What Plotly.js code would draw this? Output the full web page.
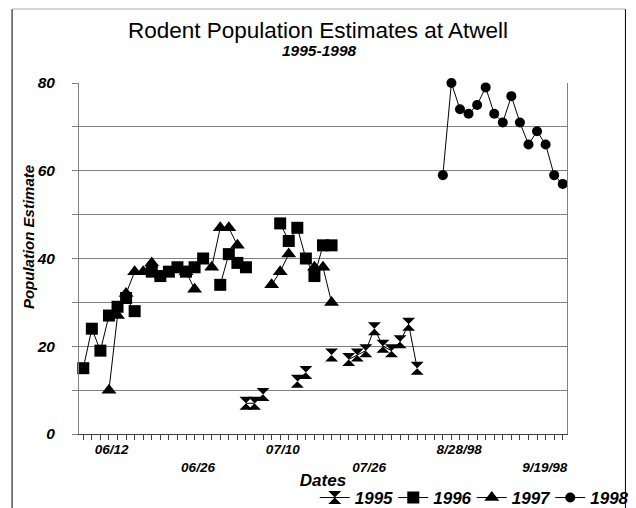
<!DOCTYPE html>
<html><head><meta charset="utf-8">
<script src="https://cdn.plot.ly/plotly-3.0.1.min.js"></script>
<style>html,body{margin:0;padding:0;background:#fff}#chart{width:636px;height:508px}</style>
</head><body><div id="chart"></div>
<script>
const N = null;
// 57 sampling occasions (category slots) along the x axis
const pop1995 = [
  N,N,N,N,N,N,N,N,N,N,
  N,N,N,N,N,N,N,N,N,7,
  7,9,N,N,N,12,14,N,N,18,
  N,17,18,19,24,20,19,21,25,15,
  N,N,N,N,N,N,N,N,N,N,
  N,N,N,N,N,N,N];
const pop1996 = [
  15,24,19,27,29,31,28,N,37,36,
  37,38,37,38,40,N,34,41,39,38,
  N,N,N,48,44,47,40,36,43,43,
  N,N,N,N,N,N,N,N,N,N,
  N,N,N,N,N,N,N,N,N,N,
  N,N,N,N,N,N,N];
const pop1997 = [
  N,N,N,10,27,32,37,37,39,N,
  N,N,37,33,N,38,47,47,43,N,
  N,N,34,37,41,N,N,38,38,30,
  N,N,N,N,N,N,N,N,N,N,
  N,N,N,N,N,N,N,N,N,N,
  N,N,N,N,N,N,N];
const pop1998 = [
  N,N,N,N,N,N,N,N,N,N,
  N,N,N,N,N,N,N,N,N,N,
  N,N,N,N,N,N,N,N,N,N,
  N,N,N,N,N,N,N,N,N,N,
  N,N,59,80,74,73,75,79,73,71,
  77,71,66,69,66,59,57];
const seriesNames = ['1995','1996','1997','1998'];
const dateLabels = ['06/12','06/26','07/10','07/26','8/28/98','9/19/98'];
const dateLabelSlots = [3.3, 13.4, 23.3, 33.4, 43.9, 53.9];
const yTickValues = [0,10,20,30,40,50,60,70,80];

const slots = pop1995.map((_, i) => i);
const symbols = ['hourglass','square','triangle-up','circle'];
const sizes = [13,12,13,10];
const allSeries = [pop1995, pop1996, pop1997, pop1998];

const traces = allSeries.map((ys, k) => ({
  type:'scatter', mode:'lines+markers', name: seriesNames[k],
  x: slots, y: ys,
  line:{color:'#000', width:1},
  marker:{symbol: symbols[k], size: sizes[k], color:'#000', line:{width:0}},
  cliponaxis:false, connectgaps:false
}));

const bi = {weight:'bold', style:'italic'};
const layout = {
  width:636, height:508,
  margin:{l:79, r:68.5, t:83, b:74, pad:0, autoexpand:false},
  paper_bgcolor:'#fff', plot_bgcolor:'#fff',
  font:{family:'Arial, "Liberation Sans", sans-serif', color:'#000'},
  title:{text:'Rodent Population Estimates at Atwell', font:{size:22.5, color:'#000'},
         x:0.5, xref:'container', xanchor:'center', y:1-30/508, yref:'container', yanchor:'middle'},
  showlegend:true,
  xaxis:{
    range:[-0.5,56.5], tickmode:'array', tickvals: dateLabelSlots,
    ticktext: dateLabels.map((t,i)=> i%2 ? '<br>'+t : t),
    ticks:'', showgrid:false, zeroline:false,
    showline:true, linecolor:'#404040', linewidth:1,
    tickfont:Object.assign({size:13.5, color:'#000'}, bi),
    ticklabelstandoff:3,
    minor:{tickmode:'linear', tick0:0, dtick:1, ticks:'outside', ticklen:5, tickcolor:'#404040', tickwidth:1, showgrid:false},
    title:{text:'Dates', font:Object.assign({size:17, color:'#000'}, bi), standoff:0},
    fixedrange:true
  },
  yaxis:{
    range:[0,80], tickmode:'array', tickvals: yTickValues,
    ticktext: yTickValues.map(v => v%20===0 ? String(v) : ''),
    ticks:'outside', ticklen:6, tickcolor:'#808080', tickwidth:1,
    showgrid:true, gridcolor:'#808080', gridwidth:1, zeroline:false,
    showline:true, linecolor:'#808080', linewidth:1, mirror:true,
    tickfont:Object.assign({size:15.5, color:'#000'}, bi),
    ticklabelstandoff:14, fixedrange:true
  },
  legend:{orientation:'h', x:(315-79)/488.5, xanchor:'left', y:(434-498)/351, yanchor:'middle',
          font:Object.assign({size:17, color:'#000'}, bi), bgcolor:'rgba(0,0,0,0)',
          itemwidth:30, tracegroupgap:0, entrywidth:33.5, entrywidthmode:'pixels'},
  annotations:[
    {text:'1995-1998', xref:'paper', yref:'paper', x:(320-79)/488.5, y:(434-51)/351, xanchor:'center', yanchor:'middle',
     showarrow:false, font:Object.assign({size:15.5, color:'#000'}, bi)},
    {text:'Population Estimate', xref:'paper', yref:'paper', x:(29-79)/488.5, y:(434-237)/351, textangle:-90,
     xanchor:'center', yanchor:'middle', showarrow:false, font:Object.assign({size:15, color:'#000'}, bi)}
  ],
  shapes:[
    {type:'line', xref:'paper', yref:'paper', x0:(12-79)/488.5, x1:(12-79)/488.5, y0:(434-510)/351, y1:(434-9)/351, line:{color:'#000', width:1}},
    {type:'line', xref:'paper', yref:'paper', x0:(626-79)/488.5, x1:(626-79)/488.5, y0:(434-510)/351, y1:(434-9)/351, line:{color:'#000', width:1}},
    {type:'line', xref:'paper', yref:'paper', x0:(12-79)/488.5, x1:(626-79)/488.5, y0:(434-9)/351, y1:(434-9)/351, line:{color:'#aaa', width:1}}
  ]
};
Plotly.newPlot('chart', traces, layout, {displayModeBar:false, staticPlot:true});
</script>
</body></html>
